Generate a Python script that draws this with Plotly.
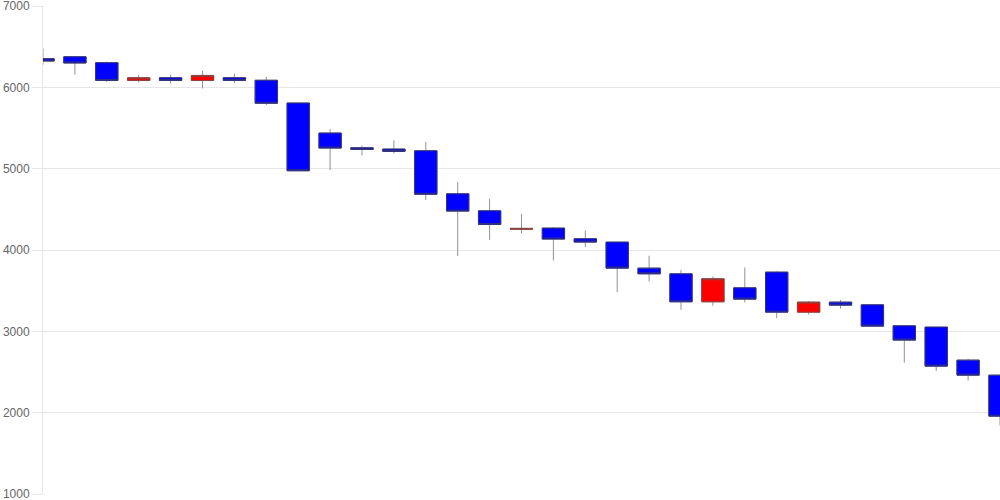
import plotly.graph_objects as go

days = list(range(31))
opens = [6352, 6376, 6303, 6085, 6118, 6085, 6118, 6087, 5807, 5438,
         5257, 5241, 5220, 4691, 4482, 4255, 4269, 4138, 4097, 3777,
         3707, 3363, 3535, 3728, 3236, 3359, 3326, 3068, 3052, 2646, 2461]
highs = [6475, 6380, 6315, 6151, 6155, 6204, 6167, 6130, 5810, 5487,
         5285, 5347, 5328, 4835, 4633, 4445, 4282, 4240, 4100, 3929,
         3756, 3674, 3785, 3735, 3372, 3387, 3330, 3072, 3058, 2662, 2465]
lows = [6278, 6155, 6065, 6060, 6048, 5987, 6053, 5782, 4970, 4983,
        5162, 5187, 4614, 3925, 4125, 4203, 3871, 4036, 3482, 3613,
        3265, 3314, 3354, 3162, 3207, 3280, 3060, 2616, 2514, 2395, 1841]
closes = [6323, 6299, 6085, 6118, 6085, 6146, 6085, 5804, 4974, 5253,
          5236, 5212, 4685, 4478, 4314, 4265, 4134, 4097, 3777, 3707,
          3363, 3646, 3396, 3236, 3359, 3322, 3064, 2892, 2572, 2461, 1957]
y_ticks = [1000, 2000, 3000, 4000, 5000, 6000, 7000]

body_top = [max(o, c) for o, c in zip(opens, closes)]
body_bot = [min(o, c) for o, c in zip(opens, closes)]

fig = go.Figure()
# wicks (drawn underneath)
fig.add_trace(go.Candlestick(
    x=days, open=opens, high=highs, low=lows, close=closes,
    increasing=dict(line=dict(color="#929292", width=1), fillcolor="rgba(0,0,0,0)"),
    decreasing=dict(line=dict(color="#929292", width=1), fillcolor="rgba(0,0,0,0)"),
    hoverinfo="skip", showlegend=False,
))
# bodies
fig.add_trace(go.Candlestick(
    x=days, open=opens, high=body_top, low=body_bot, close=closes,
    increasing=dict(line=dict(color="#8a4040", width=1), fillcolor="#ff0000"),
    decreasing=dict(line=dict(color="#333377", width=1), fillcolor="#0000ff"),
    showlegend=False,
))

fig.update_layout(
    template="none",
    width=1000, height=500,
    margin=dict(l=43, r=0, t=6, b=6, pad=0, autoexpand=False),
    paper_bgcolor="white", plot_bgcolor="white",
    boxgap=0.3, boxgroupgap=0,
    showlegend=False,
    font=dict(family="Liberation Sans, Arial, sans-serif", size=12, color="#666666"),
    xaxis=dict(
        range=[0, 30], showgrid=False, zeroline=False, showticklabels=False,
        ticks="", showline=False, rangeslider=dict(visible=False), fixedrange=True,
        automargin=False,
    ),
    yaxis=dict(
        range=[1000, 7000], tickvals=y_ticks, ticktext=[str(v) for v in y_ticks],
        showgrid=True, gridcolor="#e6e6e6", gridwidth=1, zeroline=False,
        showline=True, linecolor="#e6e6e6", linewidth=1,
        ticks="outside", ticklen=10, tickcolor="#e6e6e6", tickwidth=1,
        tickfont=dict(size=12, color="#666666"),
        ticklabeloverflow="allow",
        fixedrange=True, automargin=False,
    ),
)

fig.write_html(
    "out.html",
    config={"displayModeBar": False},
    post_script="document.body.style.margin='0';document.body.style.overflow='hidden';",
)
